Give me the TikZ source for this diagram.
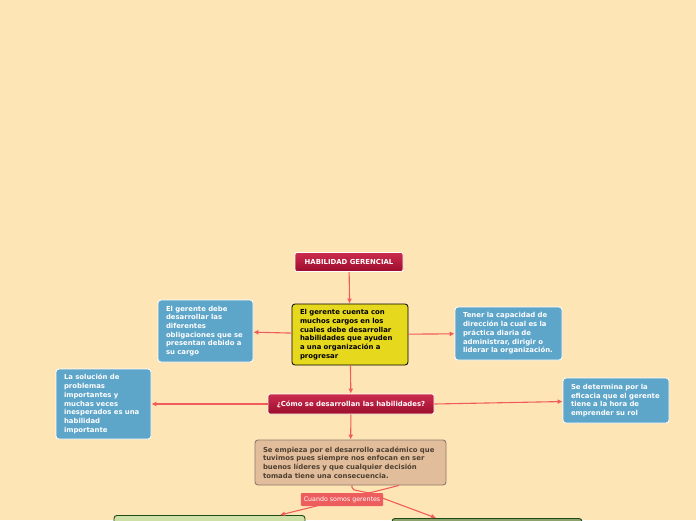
\documentclass[tikz,border=0pt]{standalone}
\usepackage{fontspec}
\setmainfont{DejaVu Sans}
\usetikzlibrary{arrows.meta}
\definecolor{bg}{HTML}{FEE5B6}
\definecolor{lnk}{HTML}{F05C5C}
\definecolor{rtop}{HTML}{CC2C4E}
\definecolor{rbot}{HTML}{9C0C2C}
\definecolor{yel}{HTML}{E6D81C}
\definecolor{blu}{HTML}{5DA5C9}
\definecolor{tan}{HTML}{E1BD9B}
\definecolor{tanb}{HTML}{8C7B69}
\definecolor{tant}{HTML}{4D3F30}
\definecolor{gl}{HTML}{CFE0A7}
\definecolor{gr}{HTML}{8EA36C}
\definecolor{gb}{HTML}{1F4A1A}
\definecolor{lab}{HTML}{EE5D5D}
\begin{document}
\begin{tikzpicture}[x=1pt,y=-1pt,
  every node/.style={font=\bfseries\fontsize{6.9}{8.7}\selectfont},
  link/.style={draw=lnk, line width=1.1pt, -{Latex[length=5pt,width=5pt]}},
  plain/.style={draw=lnk, line width=1.1pt},
  redbox/.style={rounded corners=2pt, draw=white, line width=0.8pt, top color=rtop, bottom color=rbot, text=white, inner sep=0pt},
  panel/.style={rounded corners=3pt, align=left, inner xsep=8pt, inner ysep=0pt},
  bluebox/.style={panel, fill=blu, draw=white, line width=0.8pt, text=white}
]
\fill[bg] (0,0) rectangle (696,520);
\clip (0,0) rectangle (696,520);

\node[redbox, minimum width=108pt, minimum height=19pt] (hab) at (349,262) {HABILIDAD GERENCIAL};
\node[panel, fill=yel, draw=black, line width=0.8pt, minimum width=116pt, minimum height=61pt, text width=100pt] (yel) at (350,334.5)
 {El gerente cuenta con\\muchos cargos en los\\cuales debe desarrollar\\habilidades que ayuden\\a una organización a\\progresar};
\node[bluebox, minimum width=95pt, minimum height=62pt, text width=79pt] (lb1) at (205.5,331)
 {El gerente debe\\desarrollar las\\diferentes\\obligaciones que se\\presentan debido a\\su cargo};
\node[bluebox, minimum width=107pt, minimum height=53pt, text width=91pt] (rb1) at (508.5,333.5)
 {Tener la capacidad de\\dirección la cual es la\\práctica diaria de\\administrar, dirigir o\\liderar la organización.};
\node[redbox, minimum width=166pt, minimum height=20pt] (q) at (351,404) {¿Cómo se desarrollan las habilidades?};
\node[bluebox, minimum width=95pt, minimum height=70pt, text width=79pt] (lb2) at (103.5,404)
 {La solución de\\problemas\\importantes y\\muchas veces\\inesperados es una\\habilidad\\importante};
\node[bluebox, minimum width=106pt, minimum height=45pt, text width=90pt] (rb2) at (616,400.5)
 {Se determina por la\\eficacia que el gerente\\tiene a la hora de\\emprender su rol};
\node[panel, fill=tan, draw=tanb, line width=0.9pt, text=tant, minimum width=191pt, minimum height=45pt, text width=175pt] (tan) at (350.5,462.5)
 {Se empieza por el desarrollo académico que\\tuvimos pues siempre nos enfocan en ser\\buenos líderes y que cualquier decisión\\tomada tiene una consecuencia.};
\node[panel, fill=gl, draw=gb, line width=0.9pt, minimum width=191pt, minimum height=60pt, anchor=north] (gl) at (209.5,515) {};
\node[panel, fill=gr, draw=gb, line width=0.9pt, minimum width=190pt, minimum height=60pt, anchor=north] (gr) at (487,518) {};

\draw[link] (hab) -- (yel);
\draw[link] (yel) -- (lb1);
\draw[link] (yel) -- (rb1);
\draw[link] (yel) -- (q);
\draw[link] (q) -- (lb2);
\draw[link] (q.east) -- (rb2);
\draw[link] (q) -- (tan);

\coordinate (t1) at ([xshift=1.5pt]tan.south);
\coordinate (t2) at ([xshift=48.5pt]tan.south);
\coordinate (j) at (369,493);
\draw[plain, rounded corners=2pt] (t1) -- ++(0,4) -- (j) -- (t2);
\draw[link] (j) -- ([xshift=70.5pt]gl.north);
\draw[link] (j) -- ([xshift=-51pt]gr.north);
\node[fill=lab, text=white, font=\fontsize{6.3}{7.5}\selectfont, inner xsep=3pt, minimum height=13pt, inner ysep=0pt, rounded corners=1pt] (lbl) at (342,499.5) {Cuando somos gerentes};
\end{tikzpicture}
\end{document}
